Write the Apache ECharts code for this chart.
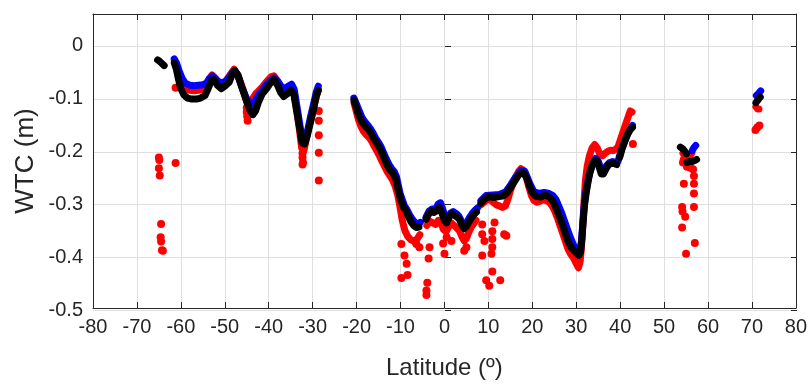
<!DOCTYPE html>
<html>
<head>
<meta charset="utf-8">
<script src="https://cdn.jsdelivr.net/npm/echarts@6/dist/echarts.min.js"></script>
<style>
  html, body { margin: 0; padding: 0; background: #ffffff; }
  #chart { width: 810px; height: 385px; }
</style>
</head>
<body>
<div id="chart"></div>
<script>
// Wet tropospheric correction (m) against latitude, three solutions per track.

const xTicks = { min: -80, max: 80, step: 10 };
const yTicks = { min: -0.5, max: 0, step: 0.1 };

// ---- black solution ----
const blackA = [[-65.3,-0.029],[-64.8,-0.032],[-64.3,-0.036],[-63.8,-0.040]];
const blackB = [[-61.5,-0.035],[-61.0,-0.048],[-60.5,-0.068],[-60.0,-0.085],[-59.3,-0.097],[-58.5,-0.103],
  [-57.5,-0.105],[-56.5,-0.105],[-55.5,-0.103],[-54.5,-0.098],[-53.8,-0.085],[-53.0,-0.068],[-52.5,-0.067],
  [-51.7,-0.078],[-50.8,-0.085],[-50.0,-0.080],[-49.0,-0.072],[-48.2,-0.055],[-47.7,-0.050],[-47.0,-0.058],
  [-46.2,-0.080],[-45.5,-0.098],[-44.8,-0.115],[-44.2,-0.128],[-43.6,-0.135],[-43.0,-0.128],[-42.3,-0.110],
  [-41.5,-0.095],[-40.5,-0.085],[-39.7,-0.075],[-38.8,-0.067],[-38.0,-0.078],[-37.3,-0.092],[-36.6,-0.100],
  [-35.8,-0.095],[-35.0,-0.088],[-34.3,-0.095],[-33.7,-0.125],[-33.0,-0.160],[-32.4,-0.190],[-31.8,-0.192],
  [-31.2,-0.175],[-30.5,-0.150],[-29.8,-0.125],[-29.2,-0.100],[-28.7,-0.088]];
const blackC = [[-20.6,-0.107],[-20.2,-0.118],[-19.7,-0.132],[-19.2,-0.142],[-18.6,-0.152],[-18.0,-0.158],
  [-17.4,-0.163],[-16.8,-0.170],[-16.2,-0.180],[-15.6,-0.188],[-15.0,-0.196],[-14.4,-0.206],[-13.8,-0.218],
  [-13.2,-0.230],[-12.6,-0.240],[-12.0,-0.246],[-11.5,-0.252],[-11.0,-0.262],[-10.6,-0.278],[-10.2,-0.292],
  [-9.8,-0.304],[-9.3,-0.315],[-8.7,-0.322],[-8.2,-0.333],[-7.6,-0.343],[-7.0,-0.350],[-6.4,-0.354],[-5.8,-0.353]];
const blackD = [[-4.2,-0.338],[-3.6,-0.328],[-3.0,-0.322],[-2.4,-0.325],[-1.8,-0.322],[-1.2,-0.315],[-0.6,-0.325],
  [0.0,-0.340],[0.5,-0.345],[1.0,-0.335],[1.6,-0.327],[2.2,-0.330],[2.8,-0.333],[3.4,-0.338],[4.0,-0.350],
  [4.5,-0.356],[5.0,-0.352],[5.6,-0.343],[6.2,-0.335],[6.8,-0.328],[7.3,-0.324]];
const blackE = [[8.3,-0.307],[9.0,-0.300],[9.7,-0.296],[10.4,-0.294],[11.1,-0.296],[11.8,-0.295],[12.5,-0.294],
  [13.2,-0.293],[13.9,-0.290],[14.5,-0.284],[15.1,-0.276],[15.7,-0.268],[16.3,-0.260],[16.9,-0.252],[17.5,-0.248],
  [18.1,-0.249],[18.7,-0.258],[19.3,-0.272],[19.9,-0.285],[20.5,-0.292],[21.2,-0.294],[21.9,-0.295],[22.6,-0.292],
  [23.3,-0.292],[24.0,-0.296],[24.6,-0.302],[25.2,-0.312],[25.8,-0.325],[26.4,-0.338],[27.0,-0.352],[27.6,-0.368],
  [28.2,-0.382],[28.8,-0.392],[29.4,-0.398],[30.0,-0.403],[30.6,-0.408],[31.0,-0.402],[31.3,-0.375],[31.6,-0.340],
  [31.9,-0.310],[32.3,-0.285],[32.7,-0.265],[33.1,-0.248],[33.6,-0.234],[34.2,-0.224],[34.7,-0.225],[35.2,-0.236],
  [35.7,-0.250],[36.2,-0.250],[36.8,-0.240],[37.4,-0.232],[38.0,-0.230],[38.6,-0.230],[39.2,-0.232]];
const blackE2 = [[39.9,-0.218],[40.5,-0.200],[41.1,-0.186],[41.7,-0.173],[42.3,-0.164],[42.8,-0.160]];
const blackF1 = [[53.7,-0.198],[54.2,-0.201],[54.7,-0.206],[55.1,-0.211]];
const blackF2 = [[55.2,-0.228],[55.8,-0.226],[56.4,-0.226],[57.0,-0.224],[57.4,-0.222]];
const blackG = [[70.9,-0.112],[71.4,-0.106],[71.9,-0.101]];

// ---- blue solution ----
const blueB = [[-61.5,-0.027],[-61.0,-0.035],[-60.4,-0.050],[-59.7,-0.065],[-59.0,-0.074],[-58.0,-0.078],
  [-57.0,-0.079],[-56.0,-0.078],[-55.0,-0.077],[-54.2,-0.074],[-53.5,-0.065],[-52.8,-0.060],[-52.1,-0.066],
  [-51.3,-0.072],[-50.5,-0.073],[-49.8,-0.070],[-48.8,-0.060],[-47.8,-0.050],[-47.0,-0.060],[-46.2,-0.080],
  [-45.5,-0.095],[-44.8,-0.108],[-44.0,-0.115],[-43.2,-0.110],[-42.4,-0.098],[-41.5,-0.088],[-40.6,-0.078],
  [-39.7,-0.070],[-38.8,-0.064],[-38.0,-0.070],[-37.2,-0.080],[-36.4,-0.085],[-35.6,-0.080],[-34.8,-0.076],
  [-34.2,-0.086],[-33.6,-0.118],[-33.0,-0.150],[-32.4,-0.182],[-31.8,-0.186],[-31.2,-0.168],[-30.5,-0.140],
  [-29.8,-0.115],[-29.2,-0.092],[-28.7,-0.080]];
const blueC = [[-20.6,-0.103],[-20.0,-0.115],[-19.4,-0.128],[-18.8,-0.140],[-18.2,-0.148],[-17.5,-0.155],
  [-16.9,-0.162],[-16.3,-0.170],[-15.7,-0.180],[-15.1,-0.188],[-14.4,-0.198],[-13.8,-0.210],[-13.2,-0.222],
  [-12.6,-0.232],[-12.0,-0.240],[-11.4,-0.246],[-10.9,-0.256],[-10.5,-0.272],[-10.1,-0.288],[-9.6,-0.300],
  [-9.1,-0.312],[-8.5,-0.320],[-7.9,-0.330],[-7.3,-0.338],[-6.6,-0.345],[-6.0,-0.348],[-5.5,-0.344]];
const blueD = [[-4.2,-0.334],[-3.5,-0.322],[-2.8,-0.318],[-2.0,-0.318],[-1.4,-0.308],[-0.9,-0.306],[-0.4,-0.318],
  [0.2,-0.334],[0.8,-0.338],[1.4,-0.326],[2.0,-0.323],[2.7,-0.327],[3.3,-0.332],[4.0,-0.344],[4.5,-0.350],
  [5.0,-0.346],[5.6,-0.336],[6.3,-0.327],[7.0,-0.320],[7.5,-0.316]];
const blueE = [[8.3,-0.302],[9.5,-0.292],[11.0,-0.291],[12.5,-0.290],[13.9,-0.285],[15.1,-0.271],[16.3,-0.255],
  [17.5,-0.243],[18.3,-0.245],[19.3,-0.266],[20.3,-0.284],[21.5,-0.288],[22.7,-0.286],[23.8,-0.288],[24.7,-0.292],
  [25.4,-0.300],[26.0,-0.312],[26.7,-0.326],[27.4,-0.343],[28.1,-0.360],[28.8,-0.376],[29.5,-0.390],[30.2,-0.398],
  [30.8,-0.400],[31.2,-0.380],[31.5,-0.345],[31.8,-0.312],[32.2,-0.285],[32.7,-0.262],[33.2,-0.244],[33.8,-0.230],
  [34.4,-0.220],[35.0,-0.225],[35.6,-0.240],[36.2,-0.243],[36.9,-0.234],[37.6,-0.228],[38.3,-0.226],[39.0,-0.228],
  [39.5,-0.226],[40.2,-0.205],[40.8,-0.192],[41.4,-0.178],[42.0,-0.168],[42.8,-0.156]];
const blueF = [[56.4,-0.205],[56.8,-0.199],[57.2,-0.195]];
const blueG = [[71.0,-0.098],[71.5,-0.094],[72.0,-0.089]];

// ---- red solution ----
const redB = [[-61.5,-0.030],[-61.0,-0.042],[-60.4,-0.060],[-59.7,-0.075],[-59.0,-0.084],[-58.0,-0.088],
  [-57.0,-0.089],[-56.0,-0.088],[-55.0,-0.086],[-54.2,-0.080],[-53.5,-0.066],[-52.9,-0.058],[-52.2,-0.064],
  [-51.3,-0.074],[-50.5,-0.076],[-49.8,-0.072],[-48.8,-0.058],[-47.9,-0.047],[-47.1,-0.058],[-46.3,-0.075],
  [-45.6,-0.092],[-45.0,-0.110],[-44.4,-0.112],[-43.7,-0.105],[-43.0,-0.095],[-42.2,-0.088],[-41.3,-0.080],
  [-40.4,-0.070],[-39.5,-0.062],[-38.8,-0.060],[-38.0,-0.070],[-37.2,-0.082],[-36.4,-0.090],[-35.6,-0.088],
  [-34.8,-0.085],[-34.2,-0.096],[-33.6,-0.128],[-33.0,-0.165],[-32.5,-0.200],[-32.0,-0.205],[-31.5,-0.185],
  [-31.0,-0.165],[-30.3,-0.140],[-29.6,-0.115],[-29.0,-0.095],[-28.7,-0.088]];
const redC = [[-20.6,-0.112],[-20.1,-0.128],[-19.6,-0.144],[-19.0,-0.158],[-18.4,-0.168],[-17.8,-0.174],
  [-17.2,-0.179],[-16.6,-0.186],[-16.0,-0.196],[-15.4,-0.205],[-14.8,-0.215],[-14.2,-0.226],[-13.6,-0.236],
  [-13.0,-0.246],[-12.4,-0.254],[-11.8,-0.262],[-11.2,-0.274],[-10.6,-0.292],[-10.1,-0.315],[-9.6,-0.340],
  [-9.0,-0.360],[-8.3,-0.372],[-7.6,-0.378],[-6.9,-0.381],[-6.2,-0.376],[-5.6,-0.368]];
const redD = [[-4.0,-0.350],[-3.3,-0.342],[-2.6,-0.345],[-2.0,-0.348],[-1.4,-0.340],[-0.8,-0.345],[-0.2,-0.358],
  [0.4,-0.362],[1.0,-0.352],[1.6,-0.345],[2.2,-0.350],[2.8,-0.355],[3.4,-0.360],[4.0,-0.372],[4.5,-0.380],
  [5.0,-0.375],[5.6,-0.362],[6.2,-0.352],[6.8,-0.345],[7.2,-0.340]];
const redE = [[8.3,-0.310],[9.0,-0.305],[9.7,-0.300],[10.4,-0.300],[11.1,-0.305],[11.8,-0.310],[12.5,-0.312],
  [13.2,-0.315],[13.9,-0.312],[14.5,-0.298],[15.1,-0.280],[15.7,-0.267],[16.3,-0.255],[16.9,-0.245],[17.4,-0.240],
  [18.0,-0.243],[18.6,-0.255],[19.2,-0.275],[19.8,-0.292],[20.4,-0.302],[21.1,-0.305],[21.8,-0.303],[22.5,-0.300],
  [23.2,-0.302],[23.9,-0.305],[24.5,-0.312],[25.1,-0.322],[25.7,-0.335],[26.3,-0.350],[26.9,-0.365],[27.5,-0.380],
  [28.1,-0.395],[28.7,-0.405],[29.3,-0.412],[29.9,-0.422],[30.5,-0.432],[30.9,-0.420],[31.2,-0.390],[31.5,-0.350],
  [31.8,-0.300],[32.1,-0.262],[32.5,-0.235],[33.0,-0.215],[33.6,-0.200],[34.2,-0.193],[34.8,-0.200],[35.4,-0.212],
  [36.0,-0.215],[36.6,-0.210],[37.2,-0.206],[37.8,-0.204],[38.4,-0.205],[39.0,-0.202],[39.5,-0.198],[40.0,-0.185],
  [40.6,-0.170],[41.2,-0.155],[41.8,-0.140],[42.3,-0.128],[42.7,-0.130]];
const redF = [[54.3,-0.210],[54.8,-0.216],[55.3,-0.218],[55.8,-0.216],[56.3,-0.210]];
const redG = [[70.9,-0.120],[71.3,-0.124],[71.6,-0.124]];

// isolated red samples away from the tracks
const redSpikes = [
  [-65.0,-0.218],[-64.9,-0.223],[-65.0,-0.239],[-64.8,-0.253],[-64.5,-0.347],[-64.6,-0.373],[-64.5,-0.381],
  [-64.3,-0.398],[-64.1,-0.399],[-61.2,-0.083],[-61.2,-0.229],
  [-45.0,-0.122],[-45.0,-0.130],[-44.9,-0.138],[-44.8,-0.147],
  [-32.3,-0.210],[-32.3,-0.218],[-32.2,-0.228],[-32.3,-0.232],
  [-28.6,-0.128],[-28.6,-0.147],[-28.6,-0.175],[-28.6,-0.209],[-28.6,-0.263],
  [-9.8,-0.386],[-9.1,-0.408],[-8.6,-0.424],[-8.4,-0.446],[-9.8,-0.452],[-6.4,-0.386],[-5.7,-0.392],
  [-3.4,-0.392],[-3.6,-0.414],[-3.9,-0.461],[-4.1,-0.476],[-4.1,-0.485],
  [0.0,-0.405],[-0.3,-0.385],[0.5,-0.373],[1.6,-0.380],[4.5,-0.399],[5.0,-0.392],
  [8.6,-0.348],[8.6,-0.367],[9.1,-0.380],[8.6,-0.408],[10.9,-0.361],[11.4,-0.344],[10.9,-0.376],[10.9,-0.392],
  [10.7,-0.405],[10.9,-0.439],[9.5,-0.456],[10.2,-0.467],[12.7,-0.456],[13.6,-0.367],[14.1,-0.370],
  [42.9,-0.192],
  [54.5,-0.222],[54.3,-0.228],[55.2,-0.236],[56.0,-0.238],[56.6,-0.241],[56.8,-0.254],[54.5,-0.269],[56.8,-0.269],
  [56.8,-0.288],[54.1,-0.314],[54.2,-0.323],[54.8,-0.333],[56.8,-0.314],[54.1,-0.354],[57.0,-0.384],[55.0,-0.405],
  [70.8,-0.165],[71.2,-0.160],[71.7,-0.156]
];

const RED = '#ff0000', BLUE = '#0000ff', BLACK = '#000000';
const INK = '#262626', GRID = '#dfdfdf';
const FONT = 'Liberation Sans, Arial, Helvetica, sans-serif';

const tracks = [
  { color: RED,   z: 2, segs: [redB, redC, redD, redE, redF, redG] },
  { color: BLUE,  z: 3, segs: [blueB, blueC, blueD, blueE, blueF, blueG] },
  { color: BLACK, z: 4, segs: [blackA, blackB, blackC, blackD, blackE, blackE2, blackF1, blackF2, blackG] }
];

const series = [];
tracks.forEach(t => {
  t.segs.forEach(seg => {
    series.push({
      type: 'line', xAxisIndex: 0, yAxisIndex: 0, data: seg,
      symbol: 'none', showSymbol: false, silent: true, z: t.z,
      lineStyle: { color: t.color, width: 7, cap: 'round', join: 'round' }
    });
  });
});
series.push({
  type: 'scatter', xAxisIndex: 0, yAxisIndex: 0, data: redSpikes,
  symbol: 'circle', symbolSize: 8, silent: true, z: 2,
  itemStyle: { color: RED, opacity: 1 }
});

// outer frame spans -0.51..0.06; the tick grid spans exactly -0.5..0
const frameMin = -0.51, frameMax = 0.06;
const PLOT = { left: 93, right: 13, top: 14, bottom: 69 };
const pxPerUnit = (385 - PLOT.top - PLOT.bottom) / (frameMax - frameMin);

const line = { show: true, onZero: false, lineStyle: { color: INK, width: 1 } };
const tick = { show: true, inside: true, length: 6, lineStyle: { color: INK, width: 1 } };

const chart = echarts.init(document.getElementById('chart'), null, { renderer: 'canvas' });
chart.setOption({
  animation: false,
  backgroundColor: '#ffffff',
  grid: [
    { left: PLOT.left, right: PLOT.right, top: PLOT.top, bottom: PLOT.bottom },
    { left: PLOT.left, right: PLOT.right,
      top: PLOT.top + (frameMax - yTicks.max) * pxPerUnit,
      bottom: PLOT.bottom + (yTicks.min - frameMin) * pxPerUnit }
  ],
  xAxis: [
    { gridIndex: 0, type: 'value', position: 'bottom', min: xTicks.min, max: xTicks.max, interval: xTicks.step,
      axisLine: line, axisTick: tick,
      axisLabel: { color: INK, fontSize: 20, fontFamily: FONT, margin: 9 },
      splitLine: { show: true, lineStyle: { color: GRID, width: 1 } },
      name: 'Latitude (º)', nameLocation: 'middle', nameGap: 48,
      nameTextStyle: { color: INK, fontSize: 24, fontFamily: FONT } },
    { gridIndex: 0, type: 'value', position: 'top', min: xTicks.min, max: xTicks.max, interval: xTicks.step,
      axisLine: line, axisTick: tick, axisLabel: { show: false }, splitLine: { show: false } },
    { gridIndex: 1, type: 'value', min: xTicks.min, max: xTicks.max, show: false }
  ],
  yAxis: [
    { gridIndex: 0, type: 'value', position: 'left', min: frameMin, max: frameMax,
      axisLine: line, axisTick: { show: false }, axisLabel: { show: false }, splitLine: { show: false },
      name: 'WTC (m)', nameLocation: 'middle', nameGap: 54, nameRotate: 90,
      nameTextStyle: { color: INK, fontSize: 26, fontFamily: FONT } },
    { gridIndex: 0, type: 'value', position: 'right', min: frameMin, max: frameMax,
      axisLine: line, axisTick: { show: false }, axisLabel: { show: false }, splitLine: { show: false } },
    { gridIndex: 1, type: 'value', position: 'left', min: yTicks.min, max: yTicks.max, interval: yTicks.step,
      axisLine: { show: false }, axisTick: tick,
      axisLabel: { color: INK, fontSize: 20, fontFamily: FONT, margin: 10,
                   formatter: v => String(+v.toFixed(1)) },
      splitLine: { show: true, lineStyle: { color: GRID, width: 1 } } },
    { gridIndex: 1, type: 'value', position: 'right', min: yTicks.min, max: yTicks.max, interval: yTicks.step,
      axisLine: { show: false }, axisTick: tick, axisLabel: { show: false }, splitLine: { show: false } }
  ],
  series: series
});
</script>
</body>
</html>
